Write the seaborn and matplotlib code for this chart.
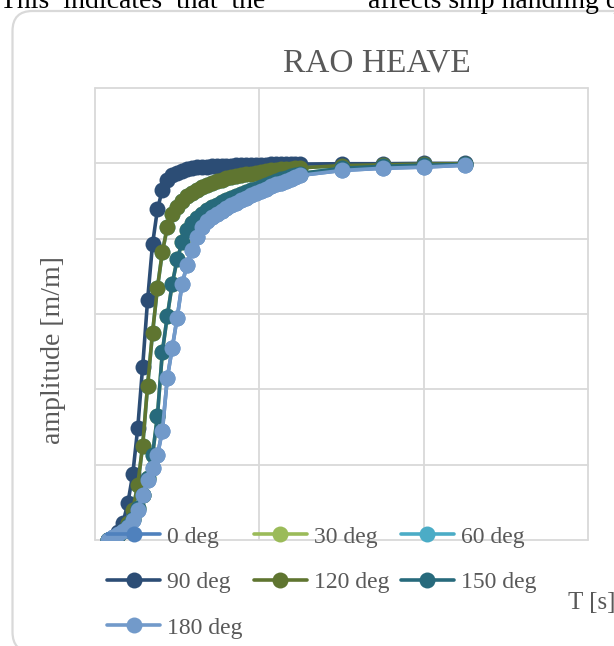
import matplotlib
matplotlib.use("Agg")
import matplotlib.pyplot as plt
import pandas as pd
import seaborn as sns
from matplotlib.patches import FancyBboxPatch
from matplotlib.transforms import IdentityTransform

# Wave periods [s]
periods = [0.8, 1.1, 1.4, 1.7, 2.0, 2.3, 2.6, 2.9, 3.2, 3.5, 3.8, 4.1, 4.4, 4.7,
           5.0, 5.3, 5.6, 5.9, 6.2, 6.5, 6.8, 7.1, 7.4, 7.7, 8.0, 8.3, 8.6, 8.9,
           9.2, 9.5, 9.8, 10.1, 10.4, 10.7, 11.0, 11.3, 11.6, 11.9, 12.2, 12.5,
           15.0, 17.5, 20.0, 22.5]

# Heave RAO amplitude [m/m] per wave heading
amp_90 = [0.0, 0.005, 0.02, 0.045, 0.098, 0.175, 0.297, 0.46, 0.637, 0.785, 0.878,
          0.93, 0.955, 0.968, 0.975, 0.980, 0.984, 0.987, 0.989, 0.990, 0.991, 0.992,
          0.993, 0.993, 0.994, 0.994, 0.995, 0.995, 0.995, 0.996, 0.996, 0.996, 0.996,
          0.997, 0.997, 0.997, 0.997, 0.997, 0.998, 0.998, 0.999, 0.999, 1.0, 1.0]
amp_120 = [0.0, 0.005, 0.013, 0.025, 0.045, 0.08, 0.146, 0.25, 0.41, 0.55, 0.67,
           0.765, 0.83, 0.865, 0.885, 0.90, 0.912, 0.922, 0.93, 0.937, 0.943, 0.948,
           0.952, 0.956, 0.96, 0.963, 0.966, 0.969, 0.971, 0.973, 0.975, 0.977, 0.979,
           0.981, 0.983, 0.984, 0.985, 0.986, 0.987, 0.988, 0.994, 0.996, 0.998, 0.999]
amp_150 = [0.0, 0.006, 0.014, 0.024, 0.036, 0.055, 0.085, 0.12, 0.165, 0.225, 0.33,
           0.5, 0.595, 0.68, 0.745, 0.79, 0.822, 0.842, 0.856, 0.866, 0.875, 0.883,
           0.89, 0.897, 0.903, 0.908, 0.913, 0.918, 0.923, 0.928, 0.933, 0.938, 0.943,
           0.948, 0.953, 0.958, 0.962, 0.966, 0.970, 0.973, 0.987, 0.992, 0.995, 0.997]
amp_180 = [0.0, 0.008, 0.016, 0.025, 0.035, 0.052, 0.08, 0.12, 0.16, 0.19, 0.225,
           0.29, 0.43, 0.51, 0.59, 0.68, 0.73, 0.77, 0.805, 0.832, 0.847, 0.858,
           0.866, 0.874, 0.881, 0.889, 0.896, 0.903, 0.909, 0.915, 0.921, 0.927, 0.933,
           0.939, 0.944, 0.949, 0.954, 0.959, 0.964, 0.968, 0.981, 0.987, 0.990, 0.995]
# Mirrored headings give the same heave response
amp_0 = list(amp_180)
amp_30 = list(amp_150)
amp_60 = list(amp_120)

headings = ["0 deg", "30 deg", "60 deg", "90 deg", "120 deg", "150 deg", "180 deg"]
series = [amp_0, amp_30, amp_60, amp_90, amp_120, amp_150, amp_180]
colors = ["#4F81BD", "#9BBB59", "#4BACC6", "#2C4D75", "#5F7530", "#276A7C", "#729ACA"]

df = pd.concat(
    [pd.DataFrame({"T": periods, "amp": s, "heading": h}) for h, s in zip(headings, series)],
    ignore_index=True,
)

sns.set_style("white")
plt.rcParams["font.family"] = ["Liberation Serif", "DejaVu Serif"]
text_grey = "#595959"
grid_grey = "#D9D9D9"

fig = plt.figure(figsize=(6.14, 6.46), dpi=100)
ax = fig.add_axes([95 / 614, 106 / 646, 493 / 614, 452 / 646])

sns.lineplot(data=df, x="T", y="amp", hue="heading", hue_order=headings,
             palette=dict(zip(headings, colors)), marker="o", markersize=11.5,
             markeredgewidth=0, linewidth=2.6, estimator=None, sort=False,
             legend=False, ax=ax)

ax.set_xlim(0, 30)
ax.set_ylim(0, 1.2)
ax.set_xticks([0, 10, 20, 30])
ax.set_yticks([0, 0.2, 0.4, 0.6, 0.8, 1.0, 1.2])
ax.set_xticklabels([])
ax.set_yticklabels([])
ax.tick_params(length=0)
ax.set_xlabel("")
ax.set_ylabel("")
for sp in ax.spines.values():
    sp.set_visible(False)
ax.grid(True, color=grid_grey, linewidth=1.3)
ax.set_axisbelow(True)
for gl in ax.get_xgridlines() + ax.get_ygridlines():
    gl.set_clip_on(False)

# Outer chart frame
frame = FancyBboxPatch((12.5, -6), 622, 646 - 11 + 6,
                       boxstyle="round,pad=0,rounding_size=20",
                       transform=IdentityTransform(), facecolor="none",
                       edgecolor=grid_grey, linewidth=1.6)
fig.patches.append(frame)

# Running text of the page above the chart
fig.text(0, 1 - 7.5 / 646, "This  indicates  that  the", fontsize=20,
         color="black", ha="left", va="baseline")
fig.text(368 / 614, 1 - 7.5 / 646, "affects ship handling q", fontsize=20,
         color="black", ha="left", va="baseline")

fig.text(377 / 614, 1 - 72 / 646, "RAO HEAVE", fontsize=24, color=text_grey,
         ha="center", va="baseline")
fig.text(53 / 614, 1 - 350 / 646, "amplitude [m/m]", rotation=90, fontsize=20,
         color=text_grey, ha="center", va="center")
fig.text(568 / 614, 1 - 603 / 646, "T [s]", fontsize=18, color=text_grey,
         ha="left", va="center")

# Legend laid out row by row: 3 columns
handles = ax.lines[:len(headings)]
order = [0, 3, 6, 1, 4, 2, 5]
fig.legend([handles[i] for i in order], [headings[i] for i in order],
           loc="upper left", bbox_to_anchor=(107 / 614, 1 - 526 / 646), ncol=3,
           frameon=False, fontsize=17, handlelength=2.25, handletextpad=0.3,
           columnspacing=0.47, labelspacing=1.02, borderpad=0, borderaxespad=0,
           labelcolor=text_grey)

fig.savefig("out.png", dpi=100, facecolor="white")
